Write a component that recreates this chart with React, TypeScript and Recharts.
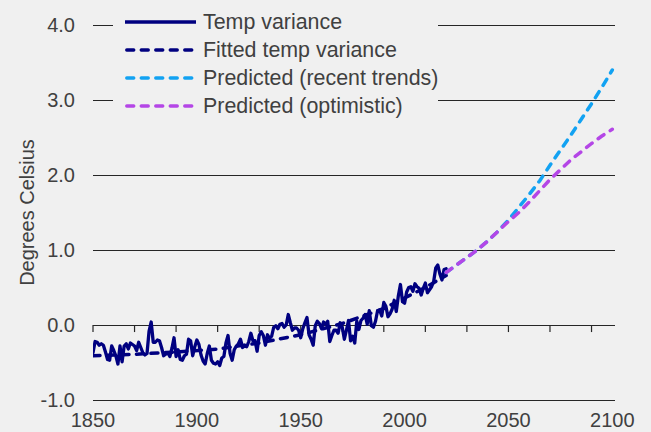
import React from 'react';
import { LineChart, Line, XAxis, YAxis, CartesianGrid, ReferenceLine, Legend } from 'recharts';

// ---------- data ----------
const TEMP_START_YEAR = 1850;
const tempVariance = [
  -0.37, -0.22, -0.23, -0.27, -0.25, -0.27, -0.36, -0.46, -0.47, -0.28,
  -0.34, -0.41, -0.52, -0.28, -0.49, -0.28, -0.25, -0.32, -0.24, -0.26,
  -0.28, -0.34, -0.23, -0.30, -0.37, -0.40, -0.38, -0.08, 0.04, -0.23,
  -0.23, -0.20, -0.21, -0.30, -0.41, -0.39, -0.37, -0.42, -0.31, -0.17,
  -0.42, -0.33, -0.46, -0.47, -0.41, -0.39, -0.19, -0.21, -0.41, -0.29,
  -0.20, -0.26, -0.40, -0.48, -0.52, -0.38, -0.28, -0.47, -0.51, -0.52,
  -0.49, -0.54, -0.44, -0.42, -0.24, -0.14, -0.38, -0.47, -0.33, -0.28,
  -0.25, -0.19, -0.30, -0.28, -0.29, -0.22, -0.11, -0.21, -0.21, -0.35,
  -0.14, -0.09, -0.14, -0.27, -0.13, -0.18, -0.15, -0.03, -0.01, -0.05,
  0.01, 0.02, -0.03, 0.0, 0.14, 0.03, -0.07, -0.04, -0.04, -0.07,
  -0.17, -0.05, 0.03, 0.10, -0.13, -0.19, -0.27, -0.01, 0.05, 0.02,
  -0.05, 0.04, 0.01, 0.05, -0.22, -0.14, -0.07, -0.07, -0.11, 0.03,
  -0.03, -0.19, -0.07, 0.06, -0.21, -0.15, -0.24, 0.05, -0.06, 0.06,
  0.09, 0.14, 0.01, 0.19, -0.01, -0.03, 0.05, 0.19, 0.20, 0.12,
  0.30, 0.25, 0.11, 0.15, 0.21, 0.33, 0.18, 0.39, 0.54, 0.31,
  0.29, 0.44, 0.50, 0.51, 0.45, 0.55, 0.51, 0.49, 0.40, 0.49,
  0.56, 0.43, 0.47, 0.51, 0.58, 0.76, 0.80, 0.68, 0.60, 0.74,
  0.75,
];

const fittedYears = [1850, 1870, 1890, 1910, 1930, 1950, 1970, 1990, 2010, 2020];
const fittedValues = [-0.41, -0.39, -0.36, -0.32, -0.24, -0.13, 0.02, 0.22, 0.5, 0.66];

const predictedYears = [2020, 2025, 2030, 2035, 2040, 2045, 2050, 2055, 2060, 2065, 2070, 2075, 2080, 2085, 2090, 2095, 2100];
const predictedRecent = [0.7, 0.8, 0.9, 1.0, 1.12, 1.25, 1.4, 1.57, 1.74, 1.92, 2.13, 2.33, 2.53, 2.74, 2.95, 3.17, 3.4];
const predictedOptimistic = [0.7, 0.8, 0.9, 1.0, 1.12, 1.25, 1.38, 1.5, 1.64, 1.79, 1.94, 2.07, 2.2, 2.31, 2.42, 2.52, 2.61];

const yTicks = [-1, 0, 1, 2, 3, 4];
const xLabelTicks = [1850, 1900, 1950, 2000, 2050, 2100];
const xTickMarks = [1850, 1870, 1890, 1910, 1930, 1950, 1970, 1990, 2010, 2030, 2050, 2070, 2090];

// ---------- tables for the library ----------
const tempData = tempVariance.map((v, i) => ({ year: TEMP_START_YEAR + i, v }));
const fittedData = fittedYears.map((year, i) => ({ year, v: fittedValues[i] }));
const recentData = predictedYears.map((year, i) => ({ year, v: predictedRecent[i] }));
const optimisticData = predictedYears.map((year, i) => ({ year, v: predictedOptimistic[i] }));

// ---------- style ----------
const BG = '#f0f0f0';
const TEXT = '#404040';
const GRID = '#262626';
const FONT = '"Liberation Sans", Arial, sans-serif';
const TICK_DEPTH = 0.094;

const series = [
  { key: 'temp', name: 'Temp variance', color: '#000080', dash: undefined as string | undefined, data: tempData },
  { key: 'fitted', name: 'Fitted temp variance', color: '#000080', dash: '7 7.5', data: fittedData },
  { key: 'recent', name: 'Predicted (recent trends)', color: '#12a2f2', dash: '7 7.5', data: recentData },
  { key: 'optimistic', name: 'Predicted (optimistic)', color: '#b446e6', dash: '7 7.5', data: optimisticData },
];

function LegendContent() {
  return (
    <div style={{ width: 325, height: 112, background: BG }}>
      {series.map((s) => (
        <div key={s.key} style={{ height: 28, display: 'flex', alignItems: 'center' }}>
          <svg width={90} height={28} style={{ display: 'block', flex: 'none' }}>
            <line
              x1={s.dash ? 13.75 : 12}
              x2={s.dash ? 81.25 : 83}
              y1={14}
              y2={14}
              stroke={s.color}
              strokeWidth={3.4}
              strokeDasharray={s.dash}
              strokeLinecap={s.dash ? 'round' : 'butt'}
            />
          </svg>
          <span style={{ fontSize: 21.4, color: TEXT, fontFamily: FONT, lineHeight: '28px', whiteSpace: 'nowrap' }}>
            {s.name}
          </span>
        </div>
      ))}
    </div>
  );
}

const renderYLabel = (p: any) => {
  const vb = p.viewBox || { x: 0, y: 25, width: 93, height: 375 };
  const cx = 27;
  const cy = vb.y + vb.height / 2;
  return (
    <text
      x={cx}
      y={cy}
      transform={`rotate(-90 ${cx} ${cy})`}
      textAnchor="middle"
      dominantBaseline="central"
      fill={TEXT}
      fontSize={20}
      fontFamily={FONT}
    >
      Degrees Celsius
    </text>
  );
};

export default function App() {
  return (
    <div style={{ position: 'absolute', left: 0, top: 0, width: 651, height: 432, background: BG, fontFamily: FONT }}>
      <LineChart width={651} height={432} margin={{ top: 25, right: 36, bottom: 0, left: 0 }}>
        <CartesianGrid horizontal vertical={false} stroke={GRID} strokeWidth={1} shapeRendering="crispEdges" />
        <XAxis
          dataKey="year"
          type="number"
          domain={[1850, 2101.3]}
          ticks={xLabelTicks}
          allowDataOverflow
          axisLine={false}
          tickLine={false}
          tickSize={6}
          tickMargin={7}
          height={32}
          tick={{ fill: TEXT, fontSize: 20 }}
        />
        <YAxis
          type="number"
          domain={[-1, 4]}
          ticks={yTicks}
          axisLine={false}
          tickLine={false}
          tickSize={6}
          tickMargin={12}
          width={93}
          tick={{ fill: TEXT, fontSize: 20 }}
          tickFormatter={(v: number) => v.toFixed(1)}
          label={renderYLabel}
        />
        <ReferenceLine y={0} stroke={GRID} strokeWidth={1} shapeRendering="crispEdges" />
        {xTickMarks.map((t) => (
          <ReferenceLine
            key={t}
            segment={[{ x: t, y: 0 }, { x: t, y: -TICK_DEPTH }]}
            stroke={GRID}
            strokeWidth={1.2}
          />
        ))}
        {series.map((s) => (
          <Line
            key={s.key}
            data={s.data}
            dataKey="v"
            name={s.name}
            type="linear"
            stroke={s.color}
            strokeWidth={s.dash ? 3.5 : 3.3}
            strokeDasharray={s.dash}
            strokeLinecap="round"
            strokeLinejoin="round"
            dot={false}
            activeDot={false}
            isAnimationActive={false}
          />
        ))}
        <Legend
          layout="vertical"
          align="center"
          verticalAlign="middle"
          content={<LegendContent />}
          wrapperStyle={{ left: 113, top: 8, width: 325, height: 112, margin: 0, padding: 0 }}
        />
      </LineChart>
    </div>
  );
}
